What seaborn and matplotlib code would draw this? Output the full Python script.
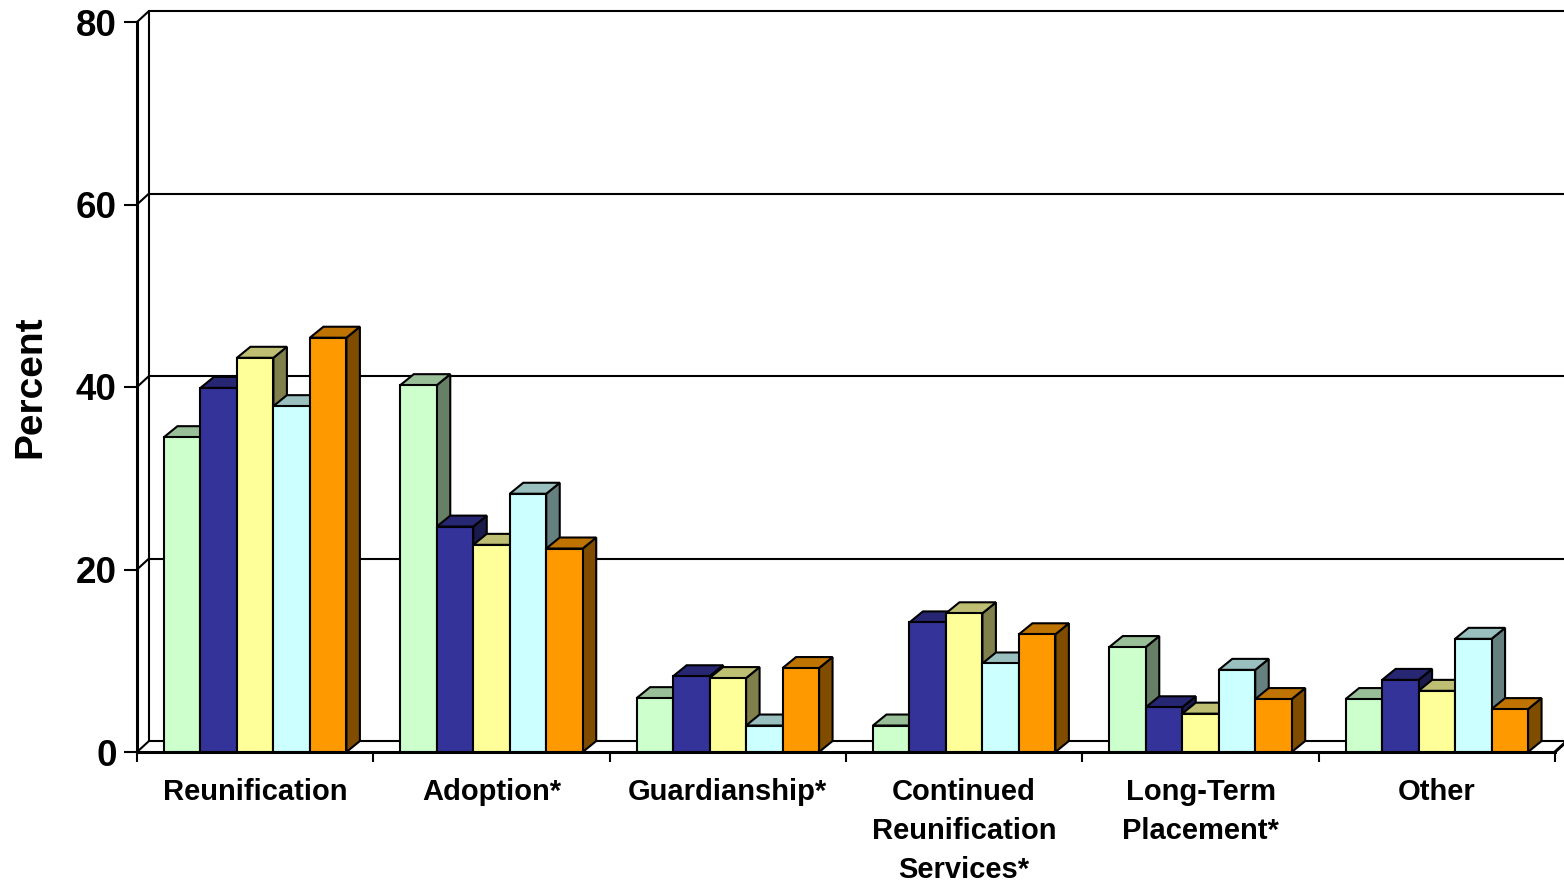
import numpy as np
import pandas as pd
import matplotlib
matplotlib.use("Agg")
import matplotlib.pyplot as plt
import seaborn as sns
from matplotlib.patches import Polygon
from matplotlib.lines import Line2D
from matplotlib.transforms import IdentityTransform
from matplotlib.colors import to_rgb

# ---- data -------------------------------------------------------------
categories = ["Reunification", "Adoption*", "Guardianship*",
              "Continued\nReunification\nServices*",
              "Long-Term\nPlacement*", "Other"]
series = ["Group 1", "Group 2", "Group 3", "Group 4", "Group 5"]
group1 = [34.5, 40.2, 5.9, 2.9, 11.5, 5.8]
group2 = [39.9, 24.7, 8.3, 14.2, 4.9, 7.9]
group3 = [43.2, 22.7, 8.1, 15.2, 4.2, 6.7]
group4 = [37.9, 28.3, 2.9, 9.7, 9.0, 12.4]
group5 = [45.4, 22.3, 9.2, 12.9, 5.8, 4.7]
colors = ["#CCFFCC", "#333399", "#FFFF99", "#CCFFFF", "#FF9900"]
yticks = [0, 20, 40, 60, 80]
y_label = "Percent"

values = [group1, group2, group3, group4, group5]
df = pd.DataFrame({
    "category": [c for s in series for c in categories],
    "series": [s for s in series for _ in categories],
    "value": [v for vals in values for v in vals],
})

# ---- style ------------------------------------------------------------
sns.set_theme(style="white")
plt.rcParams["font.family"] = ["Liberation Sans", "DejaVu Sans"]
plt.rcParams["font.weight"] = "bold"
plt.rcParams["text.color"] = "black"
plt.rcParams["axes.labelcolor"] = "black"
plt.rcParams["xtick.color"] = "black"
plt.rcParams["ytick.color"] = "black"

W, H, DPI = 1564, 883, 100
fig = plt.figure(figsize=(W / DPI, H / DPI), dpi=DPI)
fig.patch.set_facecolor("white")
ax = fig.add_axes([137 / W, 131 / H, 1418 / W, 730 / H])
ax.set_facecolor("none")

sns.barplot(data=df, x="category", y="value", hue="series",
            order=categories, hue_order=series, palette=colors,
            width=0.772, saturation=1, errorbar=None, legend=False,
            edgecolor="black", linewidth=1.5, ax=ax)

ax.set_xlim(-0.5, 5.5)
ax.set_ylim(0, 80)
ax.set_yticks(yticks)
ax.set_xlabel("")
ax.set_ylabel(y_label, fontsize=28, fontweight="bold", labelpad=20,
              color="black")

for side in ["top", "right"]:
    ax.spines[side].set_visible(False)
for side in ["left", "bottom"]:
    ax.spines[side].set_color("black")
    ax.spines[side].set_linewidth(2.2)

ax.tick_params(axis="y", direction="out", length=9.5, width=1.5,
               color="black", labelcolor="black", labelsize=26.5, pad=5,
               left=True)
ax.set_xticks(np.arange(-0.5, 6.0, 1.0), minor=True)
ax.tick_params(axis="x", which="major", length=0, labelsize=21, pad=19,
               labelcolor="black")
ax.tick_params(axis="x", which="minor", direction="out", length=7.5,
               width=1.5, color="black", bottom=True)
for t in ax.get_xticklabels():
    t.set_linespacing(1.5)
    t.set_fontweight("bold")
for t in ax.get_yticklabels():
    t.set_fontweight("bold")

# ---- 3-D walls, floor and bar depth (display pixels) -------------------
fig.canvas.draw()
ident = IdentityTransform()
wall_dx, wall_dy = 12, 11
bar_dx, bar_dy = 13.5, 11


def disp(x, y):
    return ax.transData.transform((x, y))


def seg(p, q, lw=1.5, z=1):
    ax.add_line(Line2D([p[0], q[0]], [p[1], q[1]], transform=ident,
                       color="black", lw=lw, zorder=z, clip_on=False))


x_lo, x_hi = ax.get_xlim()
for yv in yticks:
    a = disp(x_lo, yv)
    b = disp(x_hi, yv)
    seg(a, (a[0] + wall_dx, a[1] + wall_dy))
    seg((a[0] + wall_dx, a[1] + wall_dy), (b[0] + wall_dx, b[1] + wall_dy))
a0 = disp(x_lo, 0)
a8 = disp(x_lo, 80)
seg((a0[0] + wall_dx, a0[1] + wall_dy), (a8[0] + wall_dx, a8[1] + wall_dy))
b0 = disp(x_hi, 0)
seg(b0, (b0[0] + wall_dx, b0[1] + wall_dy), lw=2.2)


def shade(c, f):
    r, g, b = to_rgb(c)
    return (r * f, g * f, b * f)


bars = sorted([p for p in ax.patches if p.get_height() > 0],
              key=lambda p: p.get_x())
for k, p in enumerate(bars):
    x0, w, h = p.get_x(), p.get_width(), p.get_height()
    fc = p.get_facecolor()
    bl = disp(x0, 0)
    br = disp(x0 + w, 0)
    tl = disp(x0, h)
    tr = disp(x0 + w, h)
    top = [tl, tr, (tr[0] + bar_dx, tr[1] + bar_dy),
           (tl[0] + bar_dx, tl[1] + bar_dy)]
    side = [br, tr, (tr[0] + bar_dx, tr[1] + bar_dy),
            (br[0] + bar_dx, br[1] + bar_dy)]
    z = 3 + 2 * k
    ax.add_patch(Polygon(side, closed=True, transform=ident,
                         facecolor=shade(fc, 0.5), edgecolor="black",
                         lw=1.5, zorder=z, clip_on=False, joinstyle="miter"))
    ax.add_patch(Polygon(top, closed=True, transform=ident,
                         facecolor=shade(fc, 0.75), edgecolor="black",
                         lw=1.5, zorder=z, clip_on=False, joinstyle="miter"))
    p.set_zorder(z + 1)

fig.savefig("out.png", dpi=DPI, facecolor="white")
